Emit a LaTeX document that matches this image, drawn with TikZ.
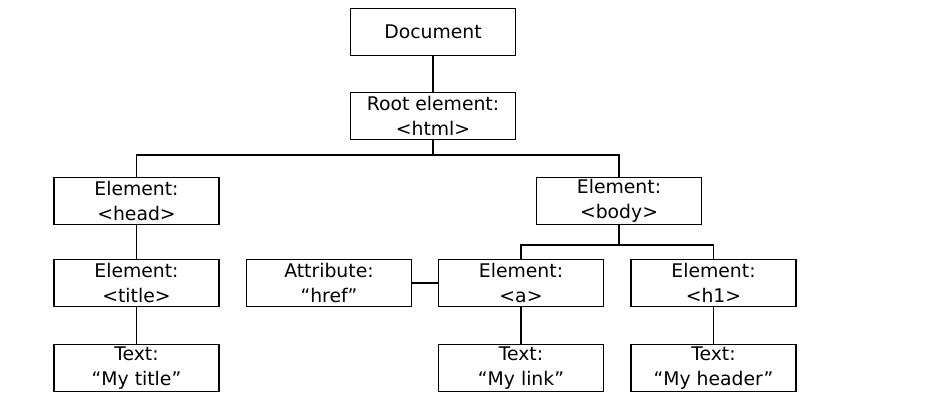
\documentclass[tikz,border=0pt]{standalone}
\usepackage{fontspec}
\setmainfont{DejaVu Sans}
\begin{document}
\begin{tikzpicture}[x=1pt,y=-1pt,
  box/.style={draw, line width=1.5pt, minimum width=165pt, minimum height=47pt, inner sep=0pt, align=center, font=\fontsize{18.8}{25}\selectfont},
  conn/.style={line width=1.5pt}]
\useasboundingbox (0,0) rectangle (948,415);
\node[box] (doc) at (433,32) {Document};
\node[box] (root) at (433,116) {Root element:\\<html>};
\node[box] (head) at (136.5,201) {Element:\\<head>};
\node[box] (body) at (619,201) {Element:\\<body>};
\node[box] (title) at (136.5,283) {Element:\\<title>};
\node[box] (attr) at (329,283) {Attribute:\\“href”};
\node[box] (a) at (521,283) {Element:\\<a>};
\node[box] (h1) at (713.5,283) {Element:\\<h1>};
\node[box] (ttitle) at (136.5,368) {Text:\\“My title”};
\node[box] (tlink) at (521,368) {Text:\\“My link”};
\node[box] (theader) at (713.5,368) {Text:\\“My header”};
\coordinate (j1) at (433,155);
\coordinate (j2) at (619,245);
\draw[conn] (doc) -- (root);
\draw[conn] (root.south) -- (j1);
\draw[conn] (head.north) |- (j1) -| (body.north);
\draw[conn] (body.south) -- (j2);
\draw[conn] (a.north) |- (j2) -| (h1.north);
\draw[conn] (head) -- (title);
\draw[conn] (title) -- (ttitle);
\draw[conn] (attr) -- (a);
\draw[conn] (a) -- (tlink);
\draw[conn] (h1) -- (theader);
\end{tikzpicture}
\end{document}
